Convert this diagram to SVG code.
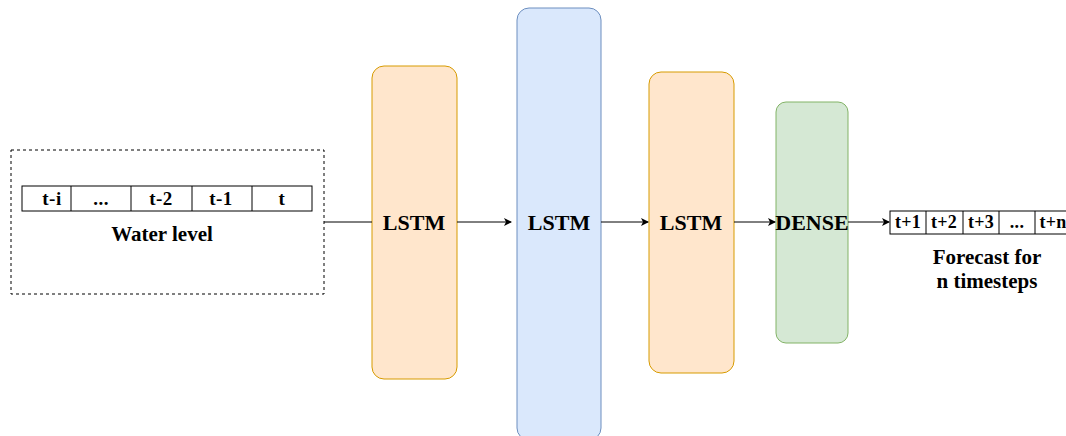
<svg xmlns="http://www.w3.org/2000/svg" width="1066" height="436" viewBox="0 0 1066 436">
<defs>
<style>
text{font-family:"Liberation Serif","Times New Roman",serif;font-weight:bold;fill:#000;text-anchor:middle}
.cell{fill:#fff;stroke:#000;stroke-width:1}
.orange{fill:#ffe6cc;stroke:#d79b00;stroke-width:1}
.blue{fill:#dae8fc;stroke:#6c8ebf;stroke-width:1}
.green{fill:#d5e8d4;stroke:#82b366;stroke-width:1}
.edge{stroke:#000;stroke-width:1;fill:none}
.big{font-size:22px}
.mid{font-size:19px;letter-spacing:0.5px}
.lbl{font-size:21px}
.sm{font-size:18px;letter-spacing:0.3px}
</style>
<marker id="arr" markerWidth="10" markerHeight="10" refX="7" refY="4" orient="auto" markerUnits="userSpaceOnUse">
<path d="M0,0 L8,4 L0,8 L2,4 Z" fill="#000"/>
</marker>
</defs>
<rect width="1066" height="436" fill="#fff"/>
<g id="input">
<rect x="11" y="150" width="313" height="144" fill="none" stroke="#000" stroke-dasharray="3,3"/>
<rect class="cell" x="22" y="186" width="290" height="25"/>
<line x1="71" y1="186" x2="71" y2="211" stroke="#000"/>
<line x1="131" y1="186" x2="131" y2="211" stroke="#000"/>
<line x1="192" y1="186" x2="192" y2="211" stroke="#000"/>
<line x1="252" y1="186" x2="252" y2="211" stroke="#000"/>
<text class="mid" x="52" y="205">t-i</text>
<text class="mid" x="101" y="205">...</text>
<text class="mid" x="161" y="205">t-2</text>
<text class="mid" x="221" y="205">t-1</text>
<text class="mid" x="282" y="205">t</text>
<text class="lbl" x="162" y="241">Water level</text>
</g>
<g id="lstm1">
<rect class="orange" x="372" y="66" width="85" height="313" rx="12"/>
<text class="big" x="414" y="230">LSTM</text>
</g>
<g id="lstm2">
<rect class="blue" x="517" y="8" width="84" height="432" rx="12"/>
<text class="big" x="559" y="230">LSTM</text>
</g>
<g id="lstm3">
<rect class="orange" x="649" y="72" width="85" height="301" rx="12"/>
<text class="big" x="691" y="230">LSTM</text>
</g>
<g id="dense">
<rect class="green" x="776" y="102" width="72" height="241" rx="10"/>
<text class="big" x="812" y="230">DENSE</text>
</g>
<g id="output">
<rect class="cell" x="890" y="211" width="180" height="23"/>
<line x1="926" y1="211" x2="926" y2="234" stroke="#000"/>
<line x1="963" y1="211" x2="963" y2="234" stroke="#000"/>
<line x1="999" y1="211" x2="999" y2="234" stroke="#000"/>
<line x1="1035" y1="211" x2="1035" y2="234" stroke="#000"/>
<text class="sm" x="908" y="228">t+1</text>
<text class="sm" x="944" y="228">t+2</text>
<text class="sm" x="981" y="228">t+3</text>
<text class="sm" x="1017" y="228">...</text>
<text class="sm" x="1053" y="228">t+n</text>
<text class="lbl" x="987" y="264">Forecast for</text>
<text class="lbl" x="987" y="288">n timesteps</text>
</g>
<g id="connectors">
<line class="edge" x1="324" y1="222" x2="372" y2="222"/>
<line class="edge" x1="457" y1="222" x2="511" y2="222" marker-end="url(#arr)"/>
<line class="edge" x1="601" y1="222" x2="648" y2="222" marker-end="url(#arr)"/>
<line class="edge" x1="734" y1="222" x2="775" y2="222" marker-end="url(#arr)"/>
<line class="edge" x1="848" y1="222" x2="889" y2="222" marker-end="url(#arr)"/>
</g>
</svg>
